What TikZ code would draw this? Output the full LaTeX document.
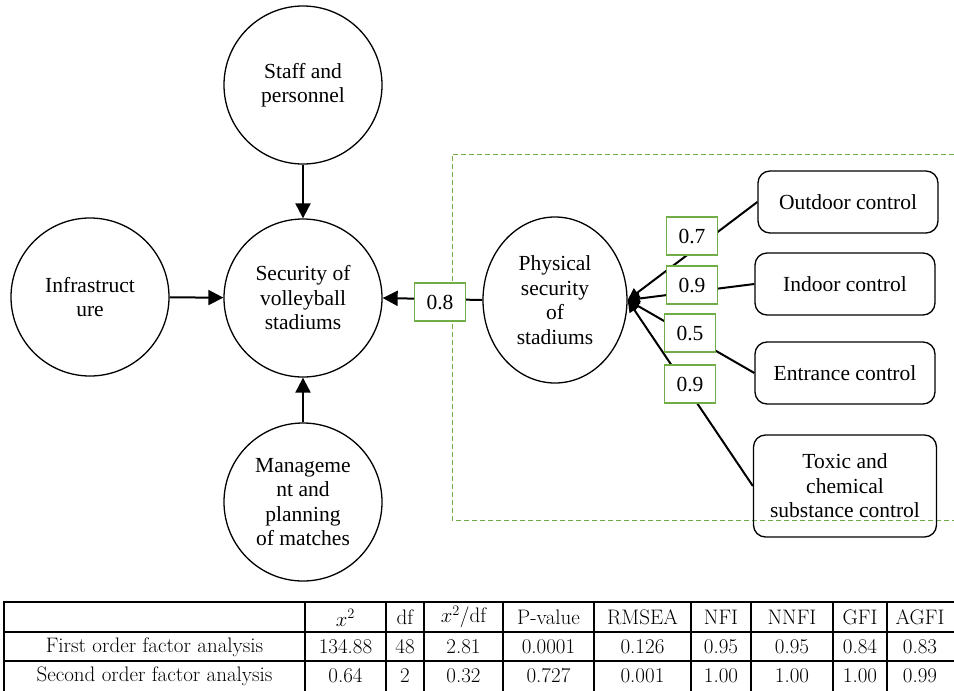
\documentclass[tikz,border=0pt]{standalone}
\usepackage{fontspec}
\newfontfamily\tnr{Liberation Serif}
\usetikzlibrary{arrows.meta,shapes.geometric}
\definecolor{boxgreen}{RGB}{112,173,71}
\tikzset{
  font=\tnr\fontsize{21.5}{24.5}\selectfont,
  factor/.style={circle,draw,line width=1.3pt,minimum size=158pt,inner sep=2pt,align=center},
  latent/.style={ellipse,draw,line width=1.3pt,minimum width=144pt,minimum height=166pt,inner sep=1pt,align=center},
  indic/.style={rectangle,rounded corners=12pt,draw,line width=1.3pt,minimum width=180pt,minimum height=62pt,align=center},
  coef/.style={rectangle,draw=boxgreen,line width=1.3pt,fill=white,minimum width=51pt,minimum height=38pt,inner sep=1pt},
  conn/.style={line width=2pt,-{Triangle[length=15pt,width=15pt]}},
  fan/.style={line width=2pt,-{Triangle[length=12pt,width=11pt]}},
  grid/.style={line width=1.8pt},
  cell/.style={font=\fontsize{21}{24}\selectfont,inner sep=0pt,anchor=center},
  dashbox/.style={draw=boxgreen,line width=1pt,dash pattern=on 5pt off 3pt}
}
\begin{document}
\begin{tikzpicture}[x=1pt,y=-1pt]
\useasboundingbox (0,0) rectangle (954,691);
% dashed group frame
\draw[dashbox] (954,154) -- (452,154) -- (452,520) -- (954,520);
% nodes
\node[factor] (staff) at (303,85) {Staff and\\personnel};
\node[factor] (sec) at (303,298) {Security of\\volleyball\\stadiums};
\node[factor] (infra) at (90,297) {Infrastruct\\ure};
\node[factor] (mgmt) at (303,502) {Manageme\\nt and\\planning\\of matches};
\node[latent] (phys) at (555,300) {Physical\\security\\of\\stadiums};
\node[indic] (out) at (848,202) {Outdoor control};
\node[indic] (ind) at (845,284) {Indoor control};
\node[indic] (ent) at (845,373) {Entrance control};
\node[indic,minimum width=183pt,minimum height=102pt] (tox) at (845,486) {Toxic and\\chemical\\substance control};
% connectors
\draw[conn] (staff) -- (sec);
\draw[conn] (infra) -- (sec);
\draw[conn] (mgmt) -- (sec);
\draw[conn] (phys.west) -- (sec.east);
\draw[fan] (out.west) -- (phys.east);
\draw[fan] (ind.west) -- (phys.east);
\draw[fan] (ent.west) -- (phys.east);
\draw[fan] (tox.west) -- (phys.east);
% coefficients
\node[coef] (c08) at (440,302) {0.8};
\node[coef] (c07) at (692,236) {0.7};
\node[coef] (c09a) at (692,285) {0.9};
\node[coef] (c05) at (690,333) {0.5};
\node[coef] (c09b) at (690,384) {0.9};
% table grid
\draw[grid] (4,602) -- (954,602);
\draw[grid] (4,632) -- (954,632);
\draw[grid] (4,661) -- (954,661);
\foreach \xx in {4,305,386,424,503,594,691,751,833,887}
  \draw[grid] (\xx,601) -- (\xx,691);
% header
\node[cell] (h1) at (345.5,618) {$x^2$};
\node[cell] (h2) at (405,617) {df};
\node[cell] (h3) at (463.5,617) {$x^2$/df};
\node[cell] (h4) at (548.5,617) {P-value};
\node[cell] (h5) at (642.5,617) {RMSEA};
\node[cell] (h6) at (721,617) {NFI};
\node[cell] (h7) at (792,617) {NNFI};
\node[cell] (h8) at (860,617) {GFI};
\node[cell] (h9) at (920,617) {AGFI};
% row 1
\node[cell] (r1a) at (154.5,647) {First order factor analysis};
\node[cell] (r1b) at (345.5,647) {134.88};
\node[cell] (r1c) at (405,647) {48};
\node[cell] (r1d) at (463.5,647) {2.81};
\node[cell] (r1e) at (548.5,647) {0.0001};
\node[cell] (r1f) at (642.5,647) {0.126};
\node[cell] (r1g) at (721,647) {0.95};
\node[cell] (r1h) at (792,647) {0.95};
\node[cell] (r1i) at (860,647) {0.84};
\node[cell] (r1j) at (920,647) {0.83};
% row 2
\node[cell] (r2a) at (154.5,676) {Second order factor analysis};
\node[cell] (r2b) at (345.5,676) {0.64};
\node[cell] (r2c) at (405,676) {2};
\node[cell] (r2d) at (463.5,676) {0.32};
\node[cell] (r2e) at (548.5,676) {0.727};
\node[cell] (r2f) at (642.5,676) {0.001};
\node[cell] (r2g) at (721,676) {1.00};
\node[cell] (r2h) at (792,676) {1.00};
\node[cell] (r2i) at (860,676) {1.00};
\node[cell] (r2j) at (920,676) {0.99};
\end{tikzpicture}
\end{document}
